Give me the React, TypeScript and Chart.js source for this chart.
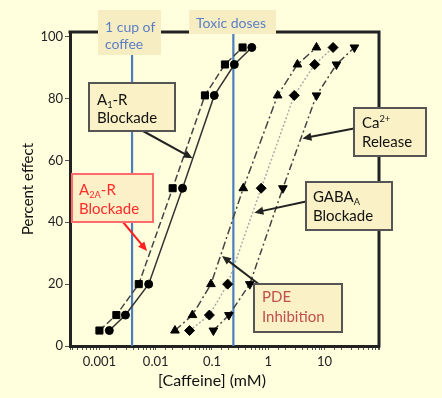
import React, { useEffect, useRef } from 'react';
import { Chart, registerables } from 'chart.js';

Chart.register(...registerables);

// ---- data ----
const effectLevels = [5, 10, 20, 51, 81, 91, 96.5]; // percent effect
const a2aConc = [0.001, 0.002, 0.005, 0.02, 0.075, 0.17, 0.35]; // squares, dashed
const a1Conc = [0.0015, 0.0029, 0.0075, 0.03, 0.11, 0.25, 0.51]; // circles, solid
const pdeConc = [0.022, 0.045, 0.096, 0.36, 1.47, 3.3, 7.2]; // up triangles
const gabaConc = [0.04, 0.09, 0.19, 0.75, 2.9, 6.7, 14.2]; // diamonds
const caConc = [0.106, 0.2, 0.47, 1.82, 7.2, 16.3, 34]; // down triangles
const xTickValues = [0.001, 0.01, 0.1, 1, 10];
const xTickLabels = ['0.001', '0.01', '0.1', '1', '10'];
const yTicks = [0, 20, 40, 60, 80, 100];
const coffeeDose = 0.0038;
const toxicDose = 0.24;
// arrow tips in data coordinates [conc, effect]
const a1Tip = [0.0453, 60.7];
const a2aTip = [0.007, 30.7];
const caTip = [4.05, 67.1];
const gabaTip = [0.567, 43.1];
const pdeTip = [0.151, 29.1];

const FONT = 'Lato, "Open Sans", sans-serif';

type Seg = [string, 'n' | 'sub' | 'sup'];

function drawRich(ctx: CanvasRenderingContext2D, segs: Seg[], x: number, y: number, size: number, color: string) {
  let cx = x;
  ctx.fillStyle = color;
  ctx.textBaseline = 'middle';
  ctx.textAlign = 'left';
  for (const [t, k] of segs) {
    const s = k === 'n' ? size : size * 0.62;
    ctx.font = `${s}px ${FONT}`;
    const dy = k === 'sub' ? size * 0.3 : k === 'sup' ? -size * 0.3 : 0;
    ctx.fillText(t, cx, y + dy);
    cx += ctx.measureText(t).width;
  }
}

function drawArrow(ctx: CanvasRenderingContext2D, x1: number, y1: number, x2: number, y2: number, color: string) {
  const a = Math.atan2(y2 - y1, x2 - x1);
  const L = 9, W = 4;
  const c = Math.cos(a), s = Math.sin(a);
  ctx.save();
  ctx.strokeStyle = color;
  ctx.fillStyle = color;
  ctx.lineWidth = 2;
  ctx.setLineDash([]);
  ctx.beginPath();
  ctx.moveTo(x1, y1);
  ctx.lineTo(x2 - c * L * 0.8, y2 - s * L * 0.8);
  ctx.stroke();
  ctx.beginPath();
  ctx.moveTo(x2, y2);
  ctx.lineTo(x2 - L * c + W * s, y2 - L * s - W * c);
  ctx.lineTo(x2 - L * c - W * s, y2 - L * s + W * c);
  ctx.closePath();
  ctx.fill();
  ctx.restore();
}

interface Box {
  x: number; y: number; w: number; h: number;
  fill: string; border?: string;
  lines: { segs: Seg[]; y: number }[];
  tx: number; size: number; color: string;
  arrow?: { from: [number, number]; tip: number[]; color: string };
}

const boxes: Box[] = [
  { x: 98, y: 10, w: 63, h: 45, fill: '#F7EDC2', lines: [{ segs: [['1 cup of', 'n']], y: 27 }, { segs: [['coffee', 'n']], y: 44 }], tx: 105, size: 14, color: '#5B7EC6' },
  { x: 189, y: 10, w: 87, h: 24, fill: '#F7EDC2', lines: [{ segs: [['Toxic doses', 'n']], y: 23 }], tx: 196, size: 14, color: '#5B7EC6' },
  { x: 89, y: 83, w: 86, h: 48, fill: '#FAF1C6', border: '#555', lines: [{ segs: [['A', 'n'], ['1', 'sub'], ['-R', 'n']], y: 100 }, { segs: [['Blockade', 'n']], y: 118 }], tx: 97, size: 15, color: '#111', arrow: { from: [143, 131], tip: a1Tip, color: '#222' } },
  { x: 72, y: 174, w: 81, h: 48, fill: '#FBF0C8', border: '#FF6A6A', lines: [{ segs: [['A', 'n'], ['2A', 'sub'], ['-R', 'n']], y: 190 }, { segs: [['Blockade', 'n']], y: 209 }], tx: 79, size: 15, color: '#FF2B2B', arrow: { from: [123, 222], tip: a2aTip, color: '#FF2020' } },
  { x: 354, y: 108, w: 72, h: 48, fill: '#FAF1C6', border: '#555', lines: [{ segs: [['Ca', 'n'], ['2+', 'sup']], y: 123 }, { segs: [['Release', 'n']], y: 142 }], tx: 362, size: 15, color: '#111', arrow: { from: [354, 128.5], tip: caTip, color: '#222' } },
  { x: 306, y: 182, w: 86, h: 48, fill: '#FAF1C6', border: '#555', lines: [{ segs: [['GABA', 'n'], ['A', 'sub']], y: 197 }, { segs: [['Blockade', 'n']], y: 216 }], tx: 313, size: 15, color: '#111', arrow: { from: [306, 201.5], tip: gabaTip, color: '#222' } },
  { x: 254, y: 284, w: 88, h: 48, fill: '#FAF1C6', border: '#555', lines: [{ segs: [['PDE', 'n']], y: 297 }, { segs: [['Inhibition', 'n']], y: 317 }], tx: 262, size: 15, color: '#C0504D', arrow: { from: [258, 283.5], tip: pdeTip, color: '#222' } },
];

export default function App() {
  const ref = useRef<HTMLCanvasElement>(null);

  useEffect(() => {
    const canvas = ref.current!;
    const mk = (xs: number[]) => xs.map((x, i) => ({ x, y: effectLevels[i] }));

    const annot = {
      id: 'annot',
      beforeDatasetsDraw(chart: any) {
        const { ctx, chartArea, scales } = chart;
        ctx.save();
        ctx.strokeStyle = '#4A7EBF';
        ctx.lineWidth = 2.2;
        for (const d of [coffeeDose, toxicDose]) {
          const px = scales.x.getPixelForValue(d);
          ctx.beginPath();
          ctx.moveTo(px, 20);
          ctx.lineTo(px, chartArea.bottom);
          ctx.stroke();
        }
        ctx.restore();
      },
      afterDatasetsDraw(chart: any) {
        const { ctx, chartArea, scales } = chart;
        ctx.save();
        ctx.strokeStyle = '#222';
        ctx.lineWidth = 3;
        ctx.beginPath();
        ctx.moveTo(chartArea.left - 1.5, chartArea.top);
        ctx.lineTo(chartArea.right, chartArea.top);
        ctx.lineTo(chartArea.right, chartArea.bottom + 1.5);
        ctx.stroke();
        for (const b of boxes) {
          if (b.arrow) {
            const tx = scales.x.getPixelForValue(b.arrow.tip[0]);
            const ty = scales.y.getPixelForValue(b.arrow.tip[1]);
            drawArrow(ctx, b.arrow.from[0], b.arrow.from[1], tx, ty, b.arrow.color);
          }
        }
        for (const b of boxes) {
          ctx.fillStyle = b.fill;
          ctx.fillRect(b.x, b.y, b.w, b.h);
          if (b.border) {
            ctx.strokeStyle = b.border;
            ctx.lineWidth = 2;
            ctx.strokeRect(b.x, b.y, b.w, b.h);
          }
          for (const ln of b.lines) drawRich(ctx, ln.segs, b.tx, ln.y, b.size, b.color);
        }
        ctx.fillStyle = '#111';
        ctx.font = `16px ${FONT}`;
        ctx.textAlign = 'center';
        ctx.textBaseline = 'middle';
        ctx.fillText('[Caffeine] (mM)', 212, 381);
        ctx.restore();
      },
    };

    const common = { showLine: true, pointBackgroundColor: '#000', pointBorderColor: '#000', pointBorderWidth: 1, tension: 0, borderWidth: 1.5 };

    const chart = new Chart(canvas, {
      type: 'scatter',
      data: {
        datasets: [
          { ...common, label: 'A2A-R', data: mk(a2aConc), pointStyle: 'rect', pointRadius: 5, borderColor: '#444', borderDash: [7, 3] },
          { ...common, label: 'A1-R', data: mk(a1Conc), pointStyle: 'circle', pointRadius: 4, borderColor: '#333' },
          { ...common, label: 'PDE', data: mk(pdeConc), pointStyle: 'triangle', pointRadius: 5, borderColor: '#444', borderDash: [8, 3, 2, 3] },
          { ...common, label: 'GABAA', data: mk(gabaConc), pointStyle: 'rectRot', pointRadius: 5, borderColor: '#AAA', borderDash: [2, 2] },
          { ...common, label: 'Ca2+', data: mk(caConc), pointStyle: 'triangle', pointRotation: 180, pointRadius: 5, borderColor: '#444', borderDash: [7, 3, 2, 3] },
        ] as any,
      },
      options: {
        responsive: false,
        maintainAspectRatio: false,
        animation: false,
        devicePixelRatio: 1,
        layout: { padding: { left: 0, top: 32, right: 63, bottom: 0 } },
        plugins: { legend: { display: false }, tooltip: { enabled: false } },
        scales: {
          x: {
            type: 'logarithmic',
            min: 0.000334,
            max: 93,
            afterFit: (s: any) => { s.height = 52; },
            border: { display: true, color: '#222', width: 3 },
            grid: { display: true, drawOnChartArea: false, drawTicks: true, tickLength: 4, color: '#555' },
            ticks: {
              autoSkip: false,
              maxRotation: 0,
              padding: 4,
              color: '#222',
              font: { family: FONT, size: 13 },
              callback: (v: any) => {
                const i = xTickValues.findIndex((t) => Math.abs(Math.log10(Number(v)) - Math.log10(t)) < 1e-6);
                return i >= 0 ? xTickLabels[i] : '';
              },
            },
          },
          y: {
            type: 'linear',
            min: 0,
            max: 101.5,
            afterFit: (s: any) => { s.width = 70; },
            afterBuildTicks: (s: any) => { s.ticks = yTicks.map((v) => ({ value: v })); },
            border: { display: true, color: '#222', width: 3 },
            grid: { display: true, drawOnChartArea: false, drawTicks: true, tickLength: 5, color: '#555' },
            ticks: { padding: 2, color: '#222', font: { family: FONT, size: 13 } },
            title: { display: true, text: 'Percent effect', color: '#111', font: { family: FONT, size: 15 }, padding: { top: 19, bottom: 0 } },
          },
        },
      },
      plugins: [annot],
    });
    return () => chart.destroy();
  }, []);

  return (
    <div style={{ position: 'fixed', left: 0, top: 0, width: 442, height: 398, background: '#FFFFDE' }}>
      <canvas ref={ref} width={442} height={398} style={{ display: 'block' }} />
    </div>
  );
}
